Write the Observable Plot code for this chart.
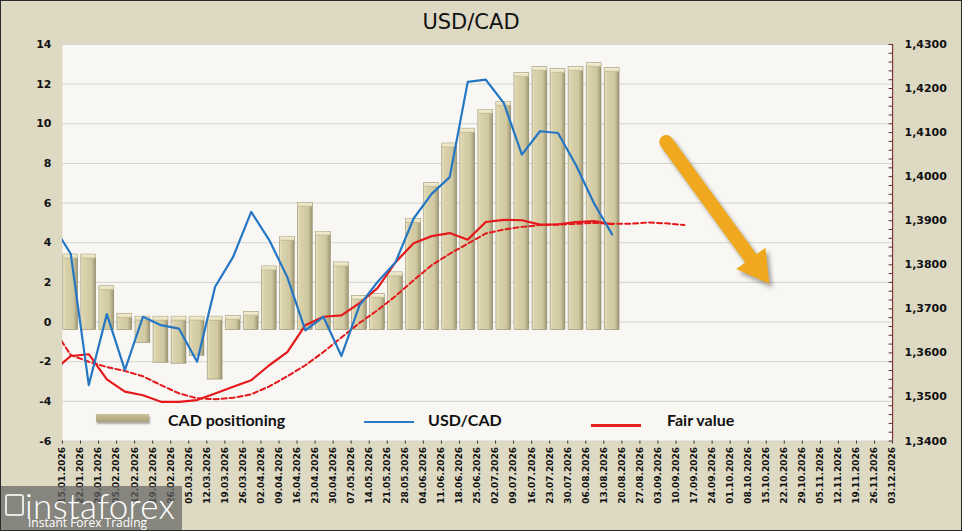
<!DOCTYPE html>
<html>
<head>
<meta charset="utf-8">
<script src="https://cdn.jsdelivr.net/npm/d3@7"></script>
<script src="https://cdn.jsdelivr.net/npm/@observablehq/plot@0.6"></script>
<style>
  html, body { margin: 0; padding: 0; background: #ddd9c3; }
  #wrap { position: relative; width: 962px; height: 531px; background: #ddd9c3; overflow: hidden; box-sizing: border-box; border: 1px solid #2b2b2b; }
  #chart { position: absolute; left: -1px; top: -1px; }
  #title { position: absolute; left: 0; top: 9px; width: 940px; text-align: center; font: 21px/24px "DejaVu Sans", sans-serif; color: #111; }
  .lg { position: absolute; font: bold 16px/20px Lato, sans-serif; color: #111; white-space: nowrap; }
  .sw { position: absolute; }
  #logo { position: absolute; left: 0; top: 485px; width: 181px; height: 46px; background: rgba(100,100,100,0.72); color: #fff; overflow: hidden; }
</style>
</head>
<body>
<div id="wrap">
  <div id="chart"></div>
  <div id="title">USD/CAD</div>
  <div class="sw" style="left:95px;top:413px;width:53px;height:8px;background:linear-gradient(#c9c199,#a9a17a);box-shadow:1px 2px 2px rgba(0,0,0,0.3)"></div>
  <div class="lg" style="left:167px;top:409px">CAD positioning</div>
  <div class="sw" style="left:363px;top:420px;width:50px;height:2px;background:#2a7bc5"></div>
  <div class="lg" style="left:427px;top:409px">USD/CAD</div>
  <div class="sw" style="left:590px;top:423px;width:50px;height:2.5px;background:#e8211d"></div>
  <div class="lg" style="left:666px;top:409px">Fair value</div>
  <div id="logo">
    <div style="position:absolute;left:4px;top:8px;width:15px;height:18px;border:2px solid rgba(255,255,255,0.8);border-radius:3px"></div>
    <div style="position:absolute;left:24px;top:-3px;font:300 35px/44px Lato, sans-serif;letter-spacing:0.3px">instaforex</div>
    <div style="position:absolute;left:27px;top:30px;font:12px/14px 'Open Sans', sans-serif">Instant Forex Trading</div>
  </div>
</div>
<script>
// ---- Data ----
// Week labels on the category axis
const weeks = ["15.01.2026","22.01.2026","29.01.2026","05.02.2026","12.02.2026","19.02.2026","26.02.2026",
  "05.03.2026","12.03.2026","19.03.2026","26.03.2026","02.04.2026","09.04.2026","16.04.2026","23.04.2026",
  "30.04.2026","07.05.2026","14.05.2026","21.05.2026","28.05.2026","04.06.2026","11.06.2026","18.06.2026",
  "25.06.2026","02.07.2026","09.07.2026","16.07.2026","23.07.2026","30.07.2026","06.08.2026","13.08.2026",
  "20.08.2026","27.08.2026","03.09.2026","10.09.2026","17.09.2026","24.09.2026","01.10.2026","08.10.2026",
  "15.10.2026","22.10.2026","29.10.2026","05.11.2026","12.11.2026","19.11.2026","26.11.2026","03.12.2026"];

// CAD positioning (left axis), one value per week from 15.01.2026
const cadPositioning = [3.4, 3.4, 1.8, 0.4, -1.05, -2.05, -2.1, -1.7, -2.9, 0.3, 0.5, 2.8, 4.3, 6.0, 4.55,
  3.0, 1.3, 1.4, 2.5, 5.2, 7.0, 9.0, 9.75, 10.7, 11.1, 12.55, 12.85, 12.75, 12.85, 13.05, 12.8];

// USD/CAD (right axis), first value is the week before 15.01.2026 (08.01.2026)
const usdcad = [1.3890, 1.3825, 1.3527, 1.3688, 1.3561, 1.3682, 1.3663, 1.3655, 1.3580, 1.3750, 1.3818,
  1.3920, 1.3856, 1.3772, 1.3651, 1.3682, 1.3593, 1.3708, 1.3761, 1.3806, 1.3905, 1.3961, 1.3999,
  1.4215, 1.4220, 1.4167, 1.4050, 1.4103, 1.4099, 1.4026, 1.3939, 1.3869];

// Fair value (right axis), first value is 08.01.2026
const fairValue = [1.3558, 1.3593, 1.3597, 1.3540, 1.3512, 1.3504, 1.3489, 1.3489, 1.3493, 1.3508, 1.3523,
  1.3538, 1.3572, 1.3602, 1.3663, 1.3682, 1.3685, 1.3713, 1.3747, 1.3806, 1.3849, 1.3865, 1.3872,
  1.3857, 1.3897, 1.3902, 1.3901, 1.3891, 1.3892, 1.3897, 1.3899, 1.3892];

// Fair value trend (dashed, right axis), first value is 08.01.2026, runs to 10.09.2026
const fairTrend = [1.3658, 1.3595, 1.3580, 1.3568, 1.3559, 1.3547, 1.3527, 1.3508, 1.3497, 1.3495, 1.3498,
  1.3506, 1.3524, 1.3547, 1.3572, 1.3602, 1.3635, 1.3668, 1.3697, 1.3729, 1.3765, 1.3799, 1.3825,
  1.3848, 1.3871, 1.3880, 1.3886, 1.3890, 1.3891, 1.3893, 1.3895, 1.3893, 1.3893, 1.3896, 1.3894, 1.3890];

// Axis ticks
const leftTicks = [-6, -4, -2, 0, 2, 4, 6, 8, 10, 12, 14];
const rightTicks = [1.34, 1.35, 1.36, 1.37, 1.38, 1.39, 1.40, 1.41, 1.42, 1.43];

// Trend annotation arrow (week index, left-axis units)
const trendArrowStart = [33.46, 9.08];
const trendArrowTip = [39.09, 2.03];

// ---- Scales helpers ----
const LMIN = leftTicks[0], LMAX = leftTicks[leftTicks.length - 1];
const RMIN = rightTicks[0], RMAX = rightTicks[rightTicks.length - 1];
const toLeft = v => (v - RMIN) / (RMAX - RMIN) * (LMAX - LMIN) + LMIN;
const fromLeft = y => (y - LMIN) / (LMAX - LMIN) * (RMAX - RMIN) + RMIN;
const XMAX = weeks.length - 1;
const C = 0.46; // bar/point centre within a week slot

const bars = cadPositioning.map((v, i) => ({i, v, base: v >= 0 ? -0.4 : 0.27}));
const series = (arr) => arr.map((v, k) => ({i: k - 1, v}));
const rightMinor = d3.range(0, 46).map(k => RMIN + k * 0.002);

const lerp = (t) => [trendArrowStart[0] + (trendArrowTip[0] - trendArrowStart[0]) * t,
                     trendArrowStart[1] + (trendArrowTip[1] - trendArrowStart[1]) * t];
const shaftEnd = lerp(0.84), headC = lerp(0.893);

const chart = Plot.plot({
  width: 962, height: 531,
  marginLeft: 62, marginRight: 69, marginTop: 44, marginBottom: 90,
  x: {type: "linear", domain: [0, XMAX]},
  y: {domain: [LMIN, LMAX]},
  style: {background: "transparent", fontFamily: "DejaVu Sans, sans-serif", color: "#111"},
  marks: [
    Plot.frame({fill: "#f8f7f3", stroke: null}),
    Plot.ruleY(leftTicks, {stroke: "#d3d3cf", strokeWidth: 1}),
    Plot.rect(bars, {x1: d => d.i + 0.05, x2: d => d.i + 0.87, y1: "base", y2: "v",
      fill: "url(#barFace)", stroke: "#8f8868", strokeWidth: 0.6}),
    Plot.rect(bars, {x1: d => d.i + 0.05, x2: d => d.i + 0.87,
      y1: d => Math.max(d.v, d.base), y2: d => Math.max(d.v, d.base) - 0.2,
      fill: "url(#barCap)", stroke: "#b0a880", strokeWidth: 0.4}),
    Plot.line(series(fairTrend), {x: d => d.i + C, y: d => toLeft(d.v), stroke: "#e3191c",
      strokeWidth: 2, strokeDasharray: "5,3", clip: true}),
    Plot.line(series(fairValue), {x: d => d.i + C, y: d => toLeft(d.v), stroke: "#e3191c",
      strokeWidth: 2.2, clip: true}),
    Plot.line(series(usdcad), {x: d => d.i + C, y: d => toLeft(d.v), stroke: "#2577c4",
      strokeWidth: 2.2, clip: true}),
    Plot.link([0], {x1: () => trendArrowStart[0], y1: () => trendArrowStart[1],
      x2: () => shaftEnd[0], y2: () => shaftEnd[1], stroke: "#f0a81e", strokeWidth: 14, strokeLinecap: "round"}),
    Plot.dot([0], {x: () => headC[0], y: () => headC[1], symbol: "triangle", r: 12.5, rotate: 144,
      fill: "#f0a81e", stroke: "#f0a81e", strokeWidth: 1.5}),
    Plot.axisY({anchor: "left", ticks: leftTicks, tickSize: 0, tickPadding: 11,
      tickFormat: d => `${d}`, fontSize: 11, fontWeight: "bold"}),
    Plot.ruleX([XMAX], {y1: LMIN, y2: LMAX, stroke: "#7d3838", strokeWidth: 1.2}),
    Plot.ruleY(rightMinor, {y: d => toLeft(d), x1: XMAX - 0.19, x2: XMAX, stroke: "#5a2a2a", strokeWidth: 1}),
    Plot.axisY({anchor: "right", ticks: rightTicks.map(toLeft), tickSize: 0, tickPadding: 12,
      tickFormat: d => fromLeft(d).toFixed(4).replace(".", ","), fontSize: 11, fontWeight: "bold"}),
    Plot.axisX({ticks: d3.range(weeks.length), tickFormat: i => weeks[i], tickRotate: -90,
      tickSize: 3, tickPadding: 3, fontSize: 9, fontWeight: "bold", stroke: "#333"})
  ]
});

document.getElementById("chart").appendChild(chart);
const svg = chart.tagName.toLowerCase() === "svg" ? chart : chart.querySelector("svg");
const defs = d3.select(svg).insert("defs", ":first-child");
const g1 = defs.append("linearGradient").attr("id", "barFace").attr("x1", 0).attr("x2", 1).attr("y1", 0).attr("y2", 0);
[["0%", "#ebe6c6"], ["18%", "#d9d2ab"], ["70%", "#cfc8a0"], ["100%", "#9e9774"]]
  .forEach(([o, c]) => g1.append("stop").attr("offset", o).attr("stop-color", c));
const g2 = defs.append("linearGradient").attr("id", "barCap").attr("x1", 0).attr("x2", 0).attr("y1", 0).attr("y2", 1);
[["0%", "#f6f2da"], ["100%", "#e0d9b4"]]
  .forEach(([o, c]) => g2.append("stop").attr("offset", o).attr("stop-color", c));
d3.select(svg).selectAll('g[aria-label="link"], g[aria-label="dot"]')
  .style("filter", "drop-shadow(3px 4px 2px rgba(0,0,0,0.35))");
</script>
</body>
</html>
